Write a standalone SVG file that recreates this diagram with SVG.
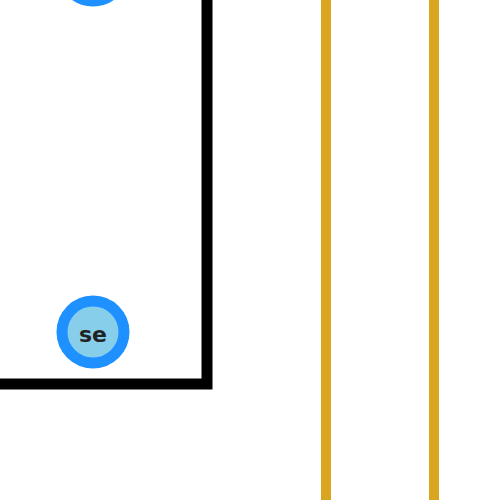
<svg xmlns="http://www.w3.org/2000/svg" width="500" height="500" viewBox="0 0 500 500">
<style>
.node circle{fill:#87ceeb;stroke:#1e90ff;stroke-width:11}
.node text{font-family:"DejaVu Sans",sans-serif;font-size:22px;font-weight:bold;fill:#222;text-anchor:middle}
.wire{stroke:#daa520;stroke-width:10;fill:none}
</style>
<rect x="-20" y="-20" width="227" height="404" fill="none" stroke="#000" stroke-width="11"/>
<g id="connectors">
<line class="wire" x1="326" y1="0" x2="326" y2="500"/>
<line class="wire" x1="434" y1="0" x2="434" y2="500"/>
</g>
<g id="node-top" class="node"><circle cx="93" cy="-30" r="31"/></g>
<g id="node-se" class="node"><circle cx="93" cy="332" r="31"/><text x="93" y="342">se</text></g>
</svg>
